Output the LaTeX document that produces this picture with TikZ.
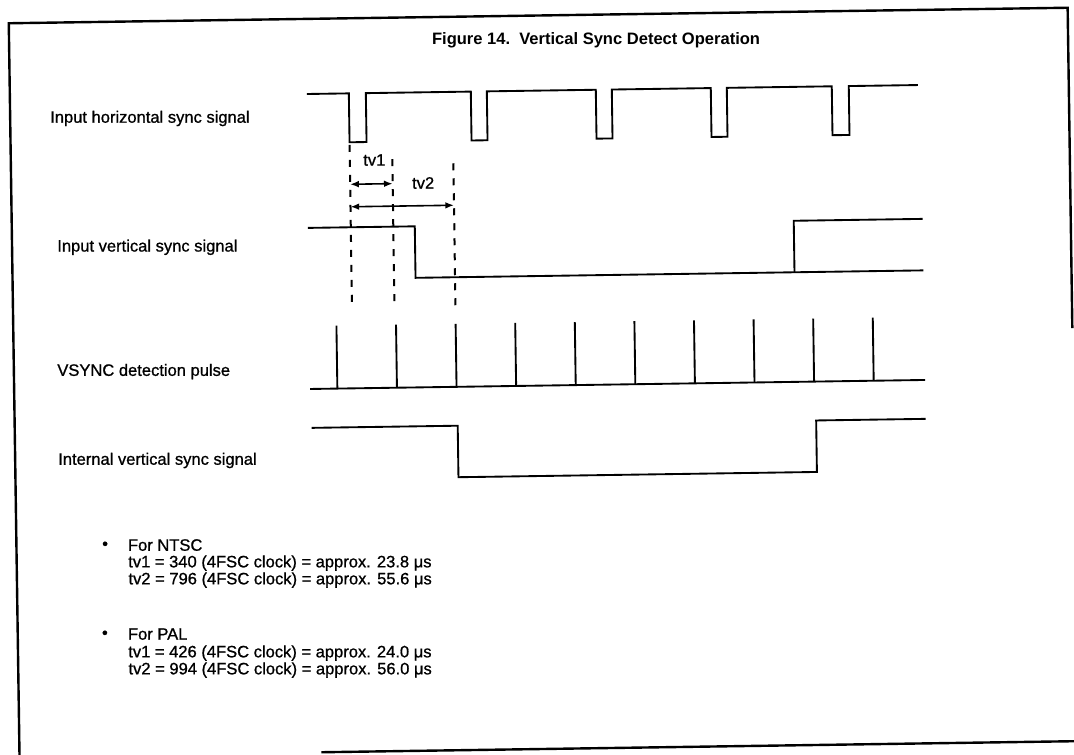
\documentclass[tikz,border=0pt]{standalone}
\usepackage{fontspec}
\setmainfont{Liberation Sans}
\newfontfamily\heavy{Liberation Sans}[FakeBold=0.9]
\usetikzlibrary{arrows.meta}
\begin{document}
\begin{tikzpicture}[x=0.75pt,y=-0.75pt,
  sig/.style={line width=1.4pt,line join=miter},
  frm/.style={line width=1.8pt},
  dsh/.style={line width=1.5pt,dash pattern=on 5.25pt off 6pt},
  arr/.style={line width=1.2pt,{Latex[length=6.5pt,width=5pt]}-{Latex[length=6.5pt,width=5pt]}},
  lbl/.style={anchor=west,inner sep=0pt,font=\heavy\fontsize{12.4}{15}\selectfont},
  tvl/.style={inner sep=0pt,font=\heavy\fontsize{12.4}{15}\selectfont},
  ttl/.style={inner sep=0pt,font=\fontsize{12.4}{15}\selectfont\bfseries}]
\useasboundingbox (0,0) rectangle (1074,754);
\begin{scope}[rotate around={0.84:(540,377)}]
% frame
\draw[frm] (1073,336) -- (1073,15.5) -- (14,15.5) -- (14,770);
\draw[frm] (316,749) -- (1090,749);
% title
\node[ttl] (title) at (601,40.8) {Figure 14.\ \ Vertical Sync Detect Operation};
% labels
\node[lbl] (l1) at (53.8,111.3) {Input horizontal sync signal};
\node[lbl] (l2) at (59,240.2) {Input vertical sync signal};
\node[lbl] (l3) at (57.2,364.5) {VSYNC detection pulse};
\node[lbl] (l4) at (56.8,453.4) {Internal vertical sync signal};
% horizontal sync
\draw[sig] (311,90.6)
  \foreach \a/\b in {353/370,475/491,600/616,715/731,836/853}{ -- (\a,90.6) -- (\a,139.5) -- (\b,139.5) -- (\b,90.6)} -- (922,90.6);
% input vertical sync
\draw[sig] (310,224.5) -- (417,224.5) -- (417,276) -- (925,276);
\draw[sig] (796,276) -- (796,224.5) -- (925,224.5);
% dashed guides
\draw[dsh] (353,142) -- (353,300);
\draw[dsh] (395.5,157) -- (395.5,301);
\draw[dsh] (456.5,162) -- (456.5,306);
% dimension arrows
\draw[arr] (353,181.5) -- (395.5,181.5);
\draw[arr] (353,204) -- (456.5,204);
\node[tvl] (tv1) at (377.5,157.6) {tv1};
\node[tvl] (tv2) at (426,181.3) {tv2};
% VSYNC detection pulses
\draw[sig] (310,385.6) -- (925,385.6);
\foreach \k in {0,...,9}{\draw[sig] (337.2+59.6*\k,385.6) -- ++(0,-63);}
% internal vertical sync
\draw[sig] (311,424.5) -- (457,424.5) -- (457,476) -- (815.5,476) -- (815.5,424.5) -- (925,424.5);
% notes
\node[lbl] (b1) at (99.5,539) {•};
\node[lbl] (n0) at (125.3,539) {For NTSC};
\node[lbl] (n1) at (125.3,557) {tv1 = 340 (4FSC clock) = approx. 23.8 μs};
\node[lbl] (n2) at (125.3,574) {tv2 = 796 (4FSC clock) = approx. 55.6 μs};
\node[lbl] (b2) at (98,628) {•};
\node[lbl] (p0) at (124,628) {For PAL};
\node[lbl] (p1) at (124,647) {tv1 = 426 (4FSC clock) = approx. 24.0 μs};
\node[lbl] (p2) at (124,664) {tv2 = 994 (4FSC clock) = approx. 56.0 μs};
\end{scope}
\end{tikzpicture}
\end{document}
